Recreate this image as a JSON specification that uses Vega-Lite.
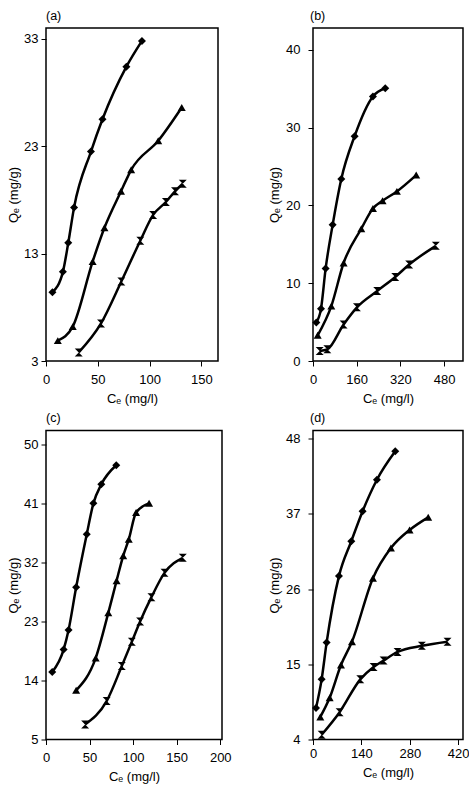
{
  "$schema": "https://vega.github.io/schema/vega-lite/v6.json",
  "padding": {"left": 6, "top": 8, "right": 0, "bottom": 0},
  "background": "white",
  "datasets": {
    "pts": [
      {"p": "a", "s": "D", "x": 6.2, "y": 9.4},
      {"p": "a", "s": "D", "x": 16.3, "y": 11.3},
      {"p": "a", "s": "D", "x": 21.5, "y": 14.0},
      {"p": "a", "s": "D", "x": 27.1, "y": 17.3},
      {"p": "a", "s": "D", "x": 43.4, "y": 22.5},
      {"p": "a", "s": "D", "x": 54.5, "y": 25.5},
      {"p": "a", "s": "D", "x": 77.6, "y": 30.4},
      {"p": "a", "s": "D", "x": 92.6, "y": 32.8},
      {"p": "a", "s": "T", "x": 11.4, "y": 4.9},
      {"p": "a", "s": "T", "x": 25.8, "y": 6.2},
      {"p": "a", "s": "T", "x": 45.0, "y": 12.25},
      {"p": "a", "s": "T", "x": 56.4, "y": 15.4},
      {"p": "a", "s": "T", "x": 72.4, "y": 18.8},
      {"p": "a", "s": "T", "x": 82.2, "y": 20.8},
      {"p": "a", "s": "T", "x": 108.3, "y": 23.5},
      {"p": "a", "s": "T", "x": 131.0, "y": 26.6},
      {"p": "a", "s": "H", "x": 31.6, "y": 3.8},
      {"p": "a", "s": "H", "x": 53.1, "y": 6.5},
      {"p": "a", "s": "H", "x": 72.7, "y": 10.4},
      {"p": "a", "s": "H", "x": 91.0, "y": 14.2},
      {"p": "a", "s": "H", "x": 103.4, "y": 16.6},
      {"p": "a", "s": "H", "x": 115.7, "y": 17.8},
      {"p": "a", "s": "H", "x": 124.5, "y": 18.8},
      {"p": "a", "s": "H", "x": 132.0, "y": 19.5},

      {"p": "b", "s": "D", "x": 12.2, "y": 4.95},
      {"p": "b", "s": "D", "x": 29.2, "y": 6.7},
      {"p": "b", "s": "D", "x": 46.3, "y": 11.9},
      {"p": "b", "s": "D", "x": 71.9, "y": 17.5},
      {"p": "b", "s": "D", "x": 103.6, "y": 23.4},
      {"p": "b", "s": "D", "x": 152.3, "y": 28.9},
      {"p": "b", "s": "D", "x": 219.3, "y": 34.0},
      {"p": "b", "s": "D", "x": 264.4, "y": 35.05},
      {"p": "b", "s": "T", "x": 17.1, "y": 3.3},
      {"p": "b", "s": "T", "x": 67.0, "y": 7.05},
      {"p": "b", "s": "T", "x": 112.0, "y": 12.6},
      {"p": "b", "s": "T", "x": 176.7, "y": 17.0},
      {"p": "b", "s": "T", "x": 219.3, "y": 19.6},
      {"p": "b", "s": "T", "x": 254.6, "y": 20.6},
      {"p": "b", "s": "T", "x": 307.0, "y": 21.8},
      {"p": "b", "s": "T", "x": 377.7, "y": 23.9},
      {"p": "b", "s": "H", "x": 24.4, "y": 1.3},
      {"p": "b", "s": "H", "x": 52.4, "y": 1.5},
      {"p": "b", "s": "H", "x": 112.0, "y": 4.7},
      {"p": "b", "s": "H", "x": 160.8, "y": 6.9},
      {"p": "b", "s": "H", "x": 235.0, "y": 9.0},
      {"p": "b", "s": "H", "x": 301.0, "y": 10.8},
      {"p": "b", "s": "H", "x": 352.0, "y": 12.4},
      {"p": "b", "s": "H", "x": 449.6, "y": 14.8},

      {"p": "c", "s": "D", "x": 7.2, "y": 15.3},
      {"p": "c", "s": "D", "x": 20.2, "y": 18.7},
      {"p": "c", "s": "D", "x": 25.9, "y": 21.7},
      {"p": "c", "s": "D", "x": 34.6, "y": 28.2},
      {"p": "c", "s": "D", "x": 46.8, "y": 36.3},
      {"p": "c", "s": "D", "x": 54.4, "y": 41.0},
      {"p": "c", "s": "D", "x": 63.5, "y": 43.9},
      {"p": "c", "s": "D", "x": 80.6, "y": 46.8},
      {"p": "c", "s": "T", "x": 34.6, "y": 12.5},
      {"p": "c", "s": "T", "x": 57.0, "y": 17.4},
      {"p": "c", "s": "T", "x": 71.5, "y": 24.3},
      {"p": "c", "s": "T", "x": 81.0, "y": 29.2},
      {"p": "c", "s": "T", "x": 88.6, "y": 33.0},
      {"p": "c", "s": "T", "x": 95.0, "y": 35.5},
      {"p": "c", "s": "T", "x": 103.4, "y": 39.6},
      {"p": "c", "s": "T", "x": 118.3, "y": 41.0},
      {"p": "c", "s": "H", "x": 44.9, "y": 7.3},
      {"p": "c", "s": "H", "x": 69.6, "y": 10.85},
      {"p": "c", "s": "H", "x": 87.0, "y": 16.2},
      {"p": "c", "s": "H", "x": 98.5, "y": 19.9},
      {"p": "c", "s": "H", "x": 108.0, "y": 23.0},
      {"p": "c", "s": "H", "x": 121.0, "y": 26.7},
      {"p": "c", "s": "H", "x": 136.0, "y": 30.4},
      {"p": "c", "s": "H", "x": 157.0, "y": 32.7},

      {"p": "d", "s": "D", "x": 8.7, "y": 8.6},
      {"p": "d", "s": "D", "x": 25.0, "y": 12.8},
      {"p": "d", "s": "D", "x": 39.5, "y": 18.2},
      {"p": "d", "s": "D", "x": 75.1, "y": 27.9},
      {"p": "d", "s": "D", "x": 110.8, "y": 33.0},
      {"p": "d", "s": "D", "x": 143.5, "y": 37.4},
      {"p": "d", "s": "D", "x": 185.0, "y": 42.0},
      {"p": "d", "s": "D", "x": 238.0, "y": 46.15},
      {"p": "d", "s": "T", "x": 21.2, "y": 7.3},
      {"p": "d", "s": "T", "x": 48.2, "y": 10.1},
      {"p": "d", "s": "T", "x": 80.9, "y": 14.9},
      {"p": "d", "s": "T", "x": 112.7, "y": 18.3},
      {"p": "d", "s": "T", "x": 173.4, "y": 27.6},
      {"p": "d", "s": "T", "x": 225.4, "y": 32.0},
      {"p": "d", "s": "T", "x": 279.4, "y": 34.65},
      {"p": "d", "s": "T", "x": 333.3, "y": 36.5},
      {"p": "d", "s": "H", "x": 25.0, "y": 4.7},
      {"p": "d", "s": "H", "x": 77.0, "y": 8.0},
      {"p": "d", "s": "H", "x": 136.8, "y": 12.8},
      {"p": "d", "s": "H", "x": 175.3, "y": 14.6},
      {"p": "d", "s": "H", "x": 204.2, "y": 15.55},
      {"p": "d", "s": "H", "x": 244.7, "y": 16.8},
      {"p": "d", "s": "H", "x": 315.0, "y": 17.7},
      {"p": "d", "s": "H", "x": 389.2, "y": 18.3}
    ]
  },
  "data": {"name": "pts"},
  "columns": 2,
  "align": "none",
  "bounds": "flush",
  "spacing": {"column": 91, "row": 69.5},
  "concat": [
    {
      "width": 172, "height": 333,
      "title": {"text": "(a)", "anchor": "start", "frame": "group", "offset": 6},
      "transform": [{"filter": "datum.p === 'a'"}],
      "encoding": {
        "x": {"field": "x", "type": "quantitative", "scale": {"domain": [0, 166], "nice": false, "zero": false},
              "axis": {"values": [0, 50, 100, 150], "title": "Cₑ (mg/l)", "labelPadding": 7, "titlePadding": 6}},
        "y": {"field": "y", "type": "quantitative", "scale": {"domain": [3, 34], "nice": false, "zero": false},
              "axis": {"values": [3, 13, 23, 33], "title": "Qₑ (mg/g)", "labelPadding": 3, "titlePadding": 3}}
      },
      "layer": [
        {"mark": {"type": "line", "interpolate": "monotone", "color": "black", "strokeWidth": 2.5}, "encoding": {"detail": {"field": "s"}}},
        {"mark": {"type": "point", "filled": true, "color": "black", "size": 64, "opacity": 1},
         "encoding": {"shape": {"field": "s", "type": "nominal", "scale": {"domain": ["D", "T", "H"], "range": ["diamond", "triangle-up", "M-1,-1H1L-1,1H1Z"]}, "legend": null}}}
      ]
    },
    {
      "width": 150, "height": 333,
      "title": {"text": "(b)", "anchor": "start", "frame": "group", "offset": 6, "dx": -3},
      "transform": [{"filter": "datum.p === 'b'"}],
      "encoding": {
        "x": {"field": "x", "type": "quantitative", "scale": {"domain": [0, 549], "nice": false, "zero": false},
              "axis": {"values": [0, 160, 320, 480], "title": "Cₑ (mg/l)", "labelPadding": 7, "titlePadding": 6}},
        "y": {"field": "y", "type": "quantitative", "scale": {"domain": [0, 42.8], "nice": false, "zero": false},
              "axis": {"values": [0, 10, 20, 30, 40], "title": "Qₑ (mg/g)", "labelPadding": 8, "titlePadding": 4}}
      },
      "layer": [
        {"mark": {"type": "line", "interpolate": "monotone", "color": "black", "strokeWidth": 2.5}, "encoding": {"detail": {"field": "s"}}},
        {"mark": {"type": "point", "filled": true, "color": "black", "size": 64, "opacity": 1},
         "encoding": {"shape": {"field": "s", "type": "nominal", "scale": {"domain": ["D", "T", "H"], "range": ["diamond", "triangle-up", "M-1,-1H1L-1,1H1Z"]}, "legend": null}}}
      ]
    },
    {
      "width": 176, "height": 309,
      "title": {"text": "(c)", "anchor": "start", "frame": "group", "offset": 6},
      "transform": [{"filter": "datum.p === 'c'"}],
      "encoding": {
        "x": {"field": "x", "type": "quantitative", "scale": {"domain": [0, 202], "nice": false, "zero": false},
              "axis": {"values": [0, 50, 100, 150, 200], "title": "Cₑ (mg/l)", "labelPadding": 7, "titlePadding": 6}},
        "y": {"field": "y", "type": "quantitative", "scale": {"domain": [5, 52.1], "nice": false, "zero": false},
              "axis": {"values": [5, 14, 23, 32, 41, 50], "title": "Qₑ (mg/g)", "labelPadding": 3, "titlePadding": 3}}
      },
      "layer": [
        {"mark": {"type": "line", "interpolate": "monotone", "color": "black", "strokeWidth": 2.5}, "encoding": {"detail": {"field": "s"}}},
        {"mark": {"type": "point", "filled": true, "color": "black", "size": 64, "opacity": 1},
         "encoding": {"shape": {"field": "s", "type": "nominal", "scale": {"domain": ["D", "T", "H"], "range": ["diamond", "triangle-up", "M-1,-1H1L-1,1H1Z"]}, "legend": null}}}
      ]
    },
    {
      "width": 150, "height": 309,
      "title": {"text": "(d)", "anchor": "start", "frame": "group", "offset": 6, "dx": -3},
      "transform": [{"filter": "datum.p === 'd'"}],
      "encoding": {
        "x": {"field": "x", "type": "quantitative", "scale": {"domain": [0, 434], "nice": false, "zero": false},
              "axis": {"values": [0, 140, 280, 420], "title": "Cₑ (mg/l)", "labelPadding": 3, "titlePadding": 6}},
        "y": {"field": "y", "type": "quantitative", "scale": {"domain": [4, 49.2], "nice": false, "zero": false},
              "axis": {"values": [4, 15, 26, 37, 48], "title": "Qₑ (mg/g)", "labelPadding": 8, "titlePadding": 4}}
      },
      "layer": [
        {"mark": {"type": "line", "interpolate": "monotone", "color": "black", "strokeWidth": 2.5}, "encoding": {"detail": {"field": "s"}}},
        {"mark": {"type": "point", "filled": true, "color": "black", "size": 64, "opacity": 1},
         "encoding": {"shape": {"field": "s", "type": "nominal", "scale": {"domain": ["D", "T", "H"], "range": ["diamond", "triangle-up", "M-1,-1H1L-1,1H1Z"]}, "legend": null}}}
      ]
    }
  ],
  "config": {
    "font": "Liberation Sans",
    "view": {"stroke": "black", "strokeWidth": 1.5},
    "axis": {
      "domain": false, "grid": false, "ticks": true, "tickColor": "black", "tickSize": 5, "tickWidth": 1,
      "labelFontSize": 13, "labelColor": "black", "labelFlush": false, "labelOverlap": false,
      "titleFontSize": 13, "titleFontWeight": "normal", "titleColor": "black"
    },
    "title": {"fontSize": 12.5, "fontWeight": "normal", "color": "black"}
  }
}
